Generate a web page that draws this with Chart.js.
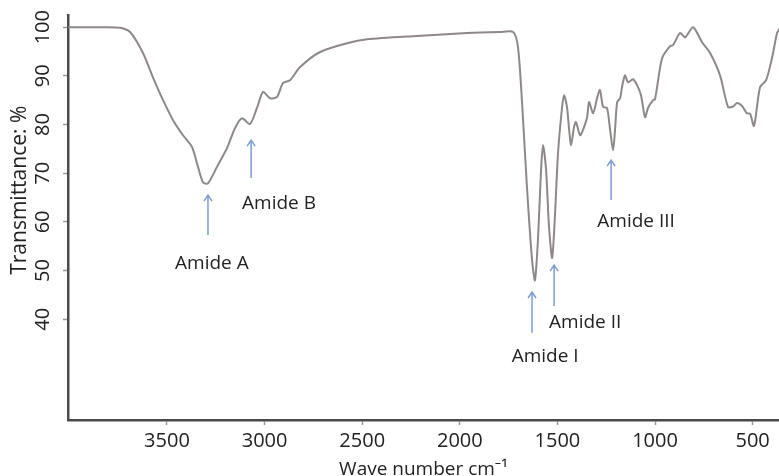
<!DOCTYPE html>
<html>
<head>
<meta charset="utf-8">
<script src="https://cdn.jsdelivr.net/npm/chart.js@4.4.1/dist/chart.umd.min.js"></script>
<style>
  body { margin: 0; background: #fff; }
  #wrap { width: 779px; height: 476px; }
</style>
</head>
<body>
<div id="wrap"><canvas id="ftir"></canvas></div>
<script>
// spectrum (wave number cm-1, transmittance %)
var waveNumbers = [4007, 3843, 3741, 3689, 3623, 3572, 3520, 3469, 3418, 3372, 3341, 3315, 3290, 3244, 3192,
  3151, 3116, 3075, 3039, 3008, 2972, 2936, 2906, 2870, 2818, 2716, 2578, 2475, 2219, 1963, 1794, 1727, 1702,
  1681, 1656, 1630, 1615, 1599, 1584, 1574, 1558, 1543, 1527, 1512, 1497, 1476, 1466, 1451, 1440, 1430, 1415,
  1405, 1384, 1369, 1348, 1338, 1317, 1297, 1282, 1266, 1246, 1230, 1215, 1205, 1194, 1179, 1169, 1154, 1138,
  1113, 1092, 1072, 1051, 1036, 1010, 1000, 964, 923, 908, 872, 846, 805, 759, 718, 667, 626, 600, 580, 554,
  529, 513, 493, 462, 431, 400, 375, 360];
var transmittance = [100, 100, 99.9, 99.0, 94.7, 89.7, 85.0, 80.9, 77.8, 75.4, 71.3, 68.1, 67.9, 71.3, 75.2,
  79.3, 81.3, 80.1, 83.4, 86.7, 85.4, 85.7, 88.5, 89.1, 91.8, 94.9, 96.7, 97.5, 98.2, 98.8, 99.0, 99.0, 95.9,
  84.4, 67.1, 52.2, 48.0, 56.9, 70.6, 75.8, 70.6, 58.9, 52.6, 61.8, 74.1, 83.6, 86.0, 83.6, 78.9, 75.8, 79.5,
  80.5, 77.8, 78.9, 81.5, 84.6, 82.3, 85.4, 87.1, 83.6, 83.4, 78.9, 74.7, 78.9, 84.6, 85.4, 87.7, 90.1, 88.7,
  89.3, 88.1, 86.0, 81.5, 83.4, 85.0, 85.2, 93.6, 96.1, 96.3, 98.8, 97.9, 100, 96.9, 94.7, 90.1, 83.6, 83.7,
  84.4, 83.8, 82.3, 82.2, 79.7, 87.7, 89.1, 93.8, 98.8, 99.8];

var xTicks = [3500, 3000, 2500, 2000, 1500, 1000, 500];
var yTicks = [40, 50, 60, 70, 80, 90, 100];

// band annotations
var bandNames = ["Amide A", "Amide B", "Amide I", "Amide II", "Amide III"];
var arrowWave = [3290, 3069, 1630, 1517, 1225];
var arrowTop = [65.5, 76.8, 45.6, 51.1, 72.7];
var arrowBottom = [57.3, 69.0, 37.2, 42.7, 64.5];
var labelWave = [3270, 2926, 1563, 1358, 1097];
var labelT = [51.5, 63.7, 32.4, 39.4, 60.0];

var FONT = "'Open Sans', 'Noto Sans', sans-serif";

var points = [];
for (var i = 0; i < waveNumbers.length; i++) {
  points.push({ x: waveNumbers[i], y: transmittance[i] });
}

// arrows, band names and the y title
var annotate = {
  id: "annotate",
  afterDatasetsDraw: function(chart) {
    var ctx = chart.ctx;
    var x = chart.scales.x, y = chart.scales.y;
    ctx.save();
    ctx.strokeStyle = "#7e9dd1";
    ctx.lineWidth = 1.5;
    for (var i = 0; i < arrowWave.length; i++) {
      var px = x.getPixelForValue(arrowWave[i]);
      var top = y.getPixelForValue(arrowTop[i]);
      var bot = y.getPixelForValue(arrowBottom[i]);
      ctx.beginPath();
      ctx.moveTo(px, bot);
      ctx.lineTo(px, top);
      ctx.moveTo(px - 4, top + 6);
      ctx.lineTo(px, top);
      ctx.lineTo(px + 4, top + 6);
      ctx.stroke();
    }
    ctx.fillStyle = "#222";
    ctx.font = "19px " + FONT;
    ctx.textAlign = "center";
    ctx.textBaseline = "middle";
    for (var j = 0; j < bandNames.length; j++) {
      ctx.fillText(bandNames[j], x.getPixelForValue(labelWave[j]), y.getPixelForValue(labelT[j]));
    }
    ctx.translate(20, y.getPixelForValue(66.5));
    ctx.rotate(-Math.PI / 2);
    ctx.font = "21px " + FONT;
    ctx.fillText("Transmittance: %", 0, 0);
    ctx.restore();
  }
};

new Chart(document.getElementById("ftir"), {
  type: "line",
  data: {
    datasets: [{
      data: points,
      borderColor: "#8f8888",
      borderWidth: 2,
      pointRadius: 0,
      fill: false,
      tension: 0.25
    }]
  },
  options: {
    responsive: true,
    maintainAspectRatio: false,
    animation: false,
    layout: { padding: { top: 15, right: 0, left: 0, bottom: 0 } },
    plugins: { legend: { display: false }, tooltip: { enabled: false } },
    scales: {
      x: {
        type: "linear",
        reverse: true,
        min: 365,
        max: 4007,
        afterBuildTicks: function(s) { s.ticks = xTicks.map(function(v) { return { value: v }; }); },
        afterFit: function(s) { s.height = 56; },
        border: { color: "#4a4a4a", width: 2.5 },
        grid: { drawOnChartArea: false, tickLength: 5, tickColor: "#999", tickWidth: 1.5 },
        ticks: {
          color: "#222",
          font: { family: FONT, size: 20 },
          padding: 4,
          maxRotation: 0,
          callback: function(v) { return String(v); }
        },
        title: {
          display: true,
          text: "Wave number cm\u207B\u00B9",
          color: "#222",
          font: { family: FONT, size: 19 },
          padding: { top: 0, bottom: -5 }
        }
      },
      y: {
        min: 19.3,
        max: 102.5,
        afterBuildTicks: function(s) { s.ticks = yTicks.map(function(v) { return { value: v }; }); },
        afterFit: function(s) { s.width = 68; },
        border: { color: "#4a4a4a", width: 2.5 },
        grid: { drawOnChartArea: false, tickLength: 5, tickColor: "#999", tickWidth: 1.5 },
        ticks: {
          color: "#222",
          font: { family: FONT, size: 20 },
          minRotation: 90,
          maxRotation: 90,
          crossAlign: "center",
          padding: 3
        }
      }
    }
  },
  plugins: [annotate]
});
</script>
</body>
</html>
